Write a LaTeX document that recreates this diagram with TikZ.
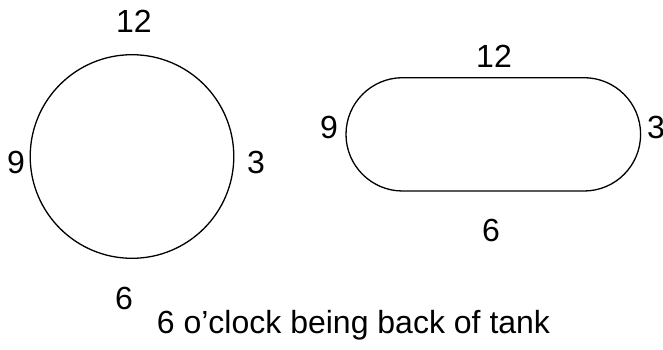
\documentclass[tikz,border=0pt]{standalone}
\usepackage{fontspec}
\setmainfont{Liberation Sans}
\begin{document}
\begin{tikzpicture}[x=1pt,y=-1pt,
  lbl/.style={anchor=base,inner sep=0pt,font=\fontsize{32}{38}\selectfont},
  outline/.style={draw=black,line width=1.3pt}]
\useasboundingbox (0,0) rectangle (663,350);
% round tank
\draw[outline] (132,156.5) circle[radius=101.8];
\node[lbl] (c12) at (134,33) {12};
\node[lbl] (c9) at (16,173) {9};
\node[lbl] (c3) at (256,173) {3};
\node[lbl] (c6) at (124,309) {6};
% oblong tank
\draw[outline,rounded corners=56.6] (346,77.7) rectangle (640.6,191);
\node[lbl] (s12) at (494,68) {12};
\node[lbl] (s9) at (329,139) {9};
\node[lbl] (s3) at (656,139) {3};
\node[lbl] (s6) at (491,241) {6};
% caption
\node[lbl] (cap) at (353.5,333) {6 o’clock being back of tank};
\end{tikzpicture}
\end{document}
